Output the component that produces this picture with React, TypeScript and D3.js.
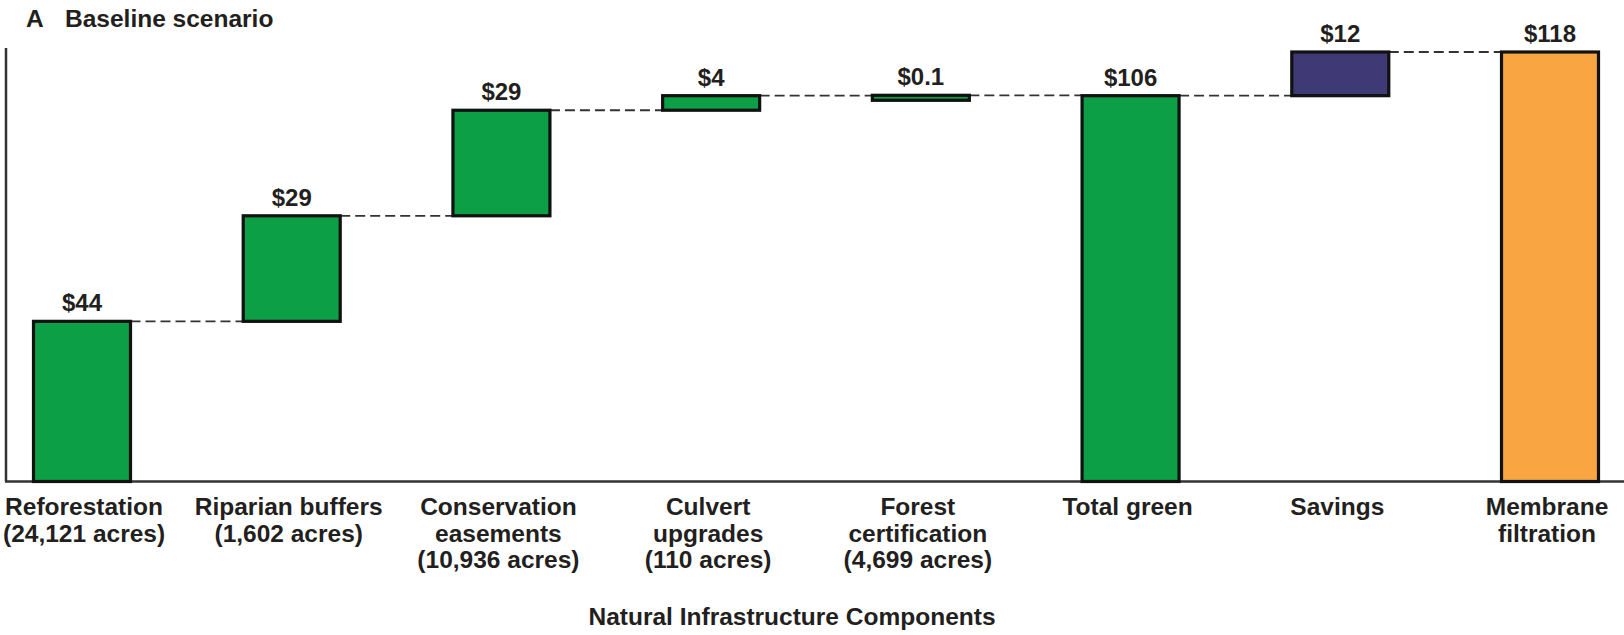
import React, { useEffect, useRef } from 'react';
import * as d3 from 'd3';

const categories = [
  ['Reforestation', '(24,121 acres)'],
  ['Riparian buffers', '(1,602 acres)'],
  ['Conservation', 'easements', '(10,936 acres)'],
  ['Culvert', 'upgrades', '(110 acres)'],
  ['Forest', 'certification', '(4,699 acres)'],
  ['Total green'],
  ['Savings'],
  ['Membrane', 'filtration'],
];
const values = [44, 29, 29, 4, 0.1, 106, 12, 118];
const labels = ['$44', '$29', '$29', '$4', '$0.1', '$106', '$12', '$118'];
// step = floating step on the running total, total = bar from zero
const kinds = ['step', 'step', 'step', 'step', 'step', 'total', 'step', 'total'];
const colors = ['#0c9f45', '#0c9f45', '#0c9f45', '#0c9f45', '#0c9f45', '#0c9f45', '#3f3a75', '#f9a541'];

const W = 1624;
const H = 635;

const App: React.FC = () => {
  const ref = useRef<SVGSVGElement | null>(null);

  useEffect(() => {
    const svg = d3.select(ref.current);
    svg.selectAll('*').remove();

    const font = '"Liberation Sans", Arial, sans-serif';
    const ink = '#231f20';
    const barW = 97;

    const x = d3.scalePoint<number>()
      .domain(d3.range(categories.length))
      .range([82, 1550]);
    const y = d3.scaleLinear().domain([0, 118]).range([481.5, 52]);

    let run = 0;
    const bars = values.map((v, i) => {
      let start: number, end: number;
      if (kinds[i] === 'total') {
        start = 0;
        end = v;
      } else {
        start = run;
        end = run + v;
      }
      run = end;
      return { i, start, end };
    });

    // title
    const title = svg.append('text')
      .attr('x', 26).attr('y', 27)
      .attr('font-family', font).attr('font-weight', 'bold')
      .attr('font-size', 24.5).attr('fill', ink);
    title.append('tspan').text('A');
    title.append('tspan').attr('x', 65).text('Baseline scenario');

    // axis lines
    svg.append('line')
      .attr('x1', 6).attr('x2', 6).attr('y1', 48).attr('y2', y(0))
      .attr('stroke', '#333').attr('stroke-width', 2.5);
    svg.append('line')
      .attr('x1', 5).attr('x2', W).attr('y1', y(0)).attr('y2', y(0))
      .attr('stroke', '#333').attr('stroke-width', 2.5);

    // dashed connectors
    for (let k = 0; k < bars.length - 1; k++) {
      const yy = y(bars[k].end);
      svg.append('line')
        .attr('x1', (x(k) as number) + barW / 2)
        .attr('x2', (x(k + 1) as number) - barW / 2)
        .attr('y1', yy).attr('y2', yy)
        .attr('stroke', '#333').attr('stroke-width', 1.8)
        .attr('stroke-dasharray', '10,5');
    }

    // bars
    svg.selectAll('rect.bar')
      .data(bars)
      .join('rect')
      .attr('class', 'bar')
      .attr('x', d => (x(d.i) as number) - barW / 2)
      .attr('y', d => y(d.end))
      .attr('width', barW)
      .attr('height', d => Math.max(y(d.start) - y(d.end), 5))
      .attr('fill', d => colors[d.i])
      .attr('stroke', '#111')
      .attr('stroke-width', 3.2);

    // value labels
    svg.selectAll('text.val')
      .data(bars)
      .join('text')
      .attr('class', 'val')
      .attr('x', d => x(d.i) as number)
      .attr('y', d => y(d.end) - 10)
      .attr('text-anchor', 'middle')
      .attr('font-family', font).attr('font-weight', 'bold')
      .attr('font-size', 24).attr('fill', ink)
      .text(d => labels[d.i]);

    // category labels, kept inside the left edge
    categories.forEach((lines, i) => {
      const t = svg.append('text')
        .attr('text-anchor', 'middle')
        .attr('font-family', font).attr('font-weight', 'bold')
        .attr('font-size', 24.5).attr('fill', ink);
      const spans = lines.map((ln, j) =>
        t.append('tspan')
          .attr('y', 515 + j * 26.5)
          .text(ln));
      let widest = 0;
      spans.forEach(s => {
        widest = Math.max(widest, (s.node() as SVGTSpanElement).getComputedTextLength());
      });
      const cx = Math.max((x(i) as number) - 3, widest / 2 + 3);
      spans.forEach(s => s.attr('x', cx));
    });

    // axis title
    svg.append('text')
      .attr('x', 792).attr('y', 625)
      .attr('text-anchor', 'middle')
      .attr('font-family', font).attr('font-weight', 'bold')
      .attr('font-size', 24.5).attr('fill', ink)
      .text('Natural Infrastructure Components');
  }, []);

  return (
    <svg ref={ref} width={W} height={H}
      style={{ position: 'absolute', left: 0, top: 0, background: '#fff' }} />
  );
};

export default App;
